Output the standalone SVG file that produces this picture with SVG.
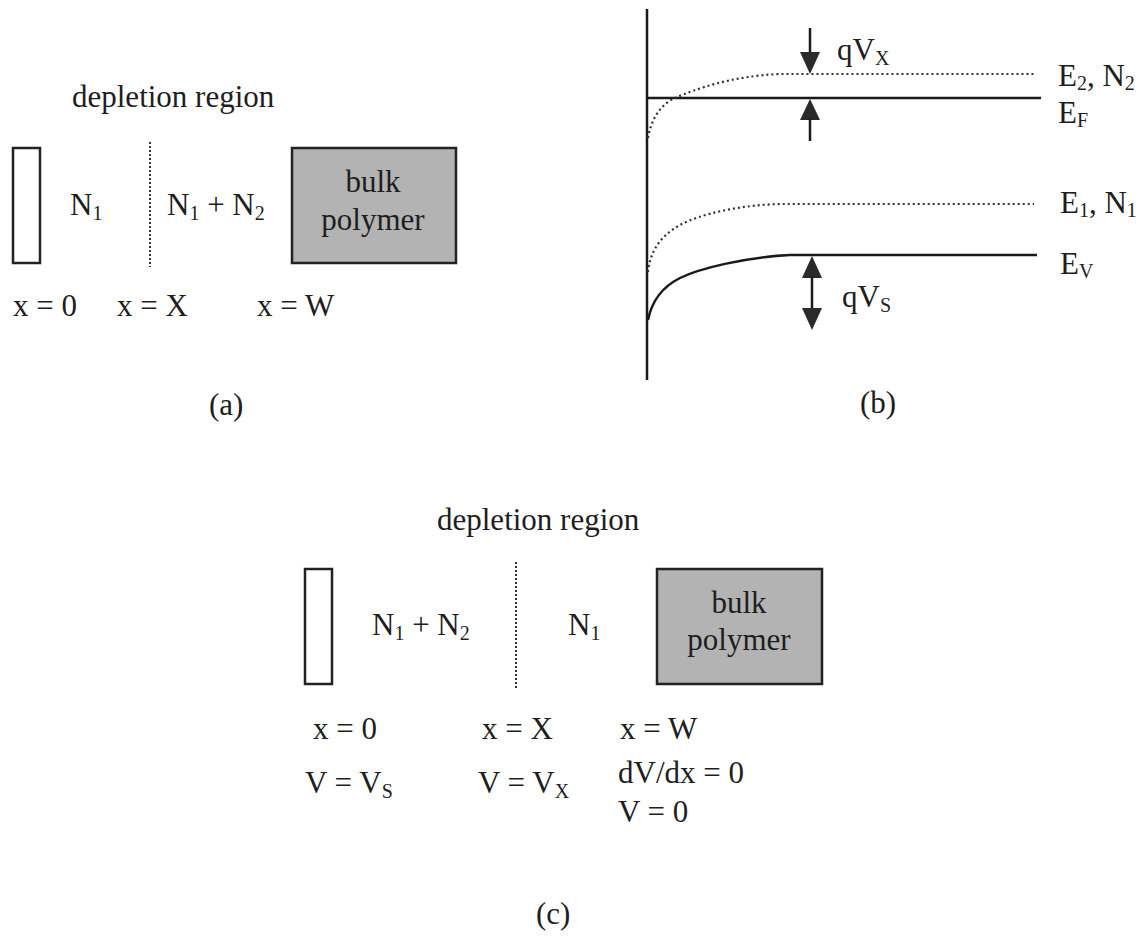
<svg xmlns="http://www.w3.org/2000/svg" width="1146" height="939" viewBox="0 0 1146 939">
<style>
text{font-family:"Liberation Serif","Times New Roman",serif;font-size:31px;fill:#1e1e1e}
.sub{font-size:20px}
.box{fill:#fff;stroke:#222;stroke-width:2.5}
.bulk{fill:#b3b3b3;stroke:#222;stroke-width:2.5}
.dotv{stroke:#333;stroke-width:2;stroke-dasharray:2 2;fill:none}
.solid{stroke:#1a1a1a;stroke-width:2.5;fill:none}
.dot{stroke:#333;stroke-width:2.2;stroke-dasharray:2 3;fill:none}
.head{fill:#2a2a2a}
.mid{text-anchor:middle}
</style>
<rect width="1146" height="939" fill="#fff"/>
<g id="panel-a">
  <text x="72" y="107">depletion region</text>
  <rect id="a-contact" class="box" x="13" y="148" width="27" height="115"/>
  <text x="70" y="215">N<tspan class="sub" dy="5">1</tspan></text>
  <line class="dotv" x1="150" y1="142" x2="150" y2="267"/>
  <text x="167" y="215">N<tspan class="sub" dy="5">1</tspan><tspan dy="-5"> + N</tspan><tspan class="sub" dy="5">2</tspan></text>
  <g id="a-bulk">
    <rect class="bulk" x="292" y="148" width="164" height="115"/>
    <text class="mid" x="373" y="192">bulk</text>
    <text class="mid" x="373" y="230">polymer</text>
  </g>
  <text x="13" y="316">x = 0</text>
  <text x="117" y="316">x = X</text>
  <text x="257" y="316">x = W</text>
  <text x="209" y="415">(a)</text>
</g>
<g id="panel-b">
  <g id="b-connectors">
    <line class="solid" x1="647" y1="9" x2="647" y2="380"/>
    <line class="solid" x1="647" y1="98" x2="1041" y2="98"/>
    <path class="dot" d="M648,138 C651,120 660,104 677,97 S730,76 780,74 L1034,74"/>
    <path class="dot" d="M648,272 C650,252 660,236 680,225 S740,205 780,204 L1034,204"/>
    <path class="solid" d="M648,320 C652,300 662,287 680,278 S745,257 790,255 L1037,255"/>
    <line class="solid" x1="810" y1="28" x2="810" y2="54" stroke-width="2"/>
    <polygon class="head" points="800,52 820,52 810,74"/>
    <polygon class="head" points="810,99 800,120 820,120"/>
    <line class="solid" x1="810" y1="118" x2="810" y2="141" stroke-width="2"/>
    <polygon class="head" points="812,256 802,278 822,278"/>
    <line class="solid" x1="812" y1="276" x2="812" y2="310" stroke-width="2"/>
    <polygon class="head" points="802,308 822,308 812,330"/>
  </g>
  <text x="837" y="60">qV<tspan class="sub" dy="5">X</tspan></text>
  <text x="842" y="307">qV<tspan class="sub" dy="5">S</tspan></text>
  <text x="1058" y="86">E<tspan class="sub" dy="4">2</tspan><tspan dy="-4">, N</tspan><tspan class="sub" dy="4">2</tspan></text>
  <text x="1058" y="123">E<tspan class="sub" dy="4">F</tspan></text>
  <text x="1060" y="213">E<tspan class="sub" dy="4">1</tspan><tspan dy="-4">, N</tspan><tspan class="sub" dy="4">1</tspan></text>
  <text x="1060" y="274">E<tspan class="sub" dy="4">V</tspan></text>
  <text x="860" y="413">(b)</text>
</g>
<g id="panel-c">
  <text x="437" y="530">depletion region</text>
  <rect id="c-contact" class="box" x="305" y="569" width="27" height="115"/>
  <text x="372" y="635">N<tspan class="sub" dy="5">1</tspan><tspan dy="-5"> + N</tspan><tspan class="sub" dy="5">2</tspan></text>
  <line class="dotv" x1="516" y1="562" x2="516" y2="688"/>
  <text x="568" y="635">N<tspan class="sub" dy="5">1</tspan></text>
  <g id="c-bulk">
    <rect class="bulk" x="657" y="569" width="165" height="115"/>
    <text class="mid" x="739" y="613">bulk</text>
    <text class="mid" x="739" y="650">polymer</text>
  </g>
  <text x="313" y="739">x = 0</text>
  <text x="482" y="739">x = X</text>
  <text x="620" y="739">x = W</text>
  <text x="305" y="793">V = V<tspan class="sub" dy="5">S</tspan></text>
  <text x="478" y="793">V = V<tspan class="sub" dy="5">X</tspan></text>
  <text x="618" y="783">dV/dx = 0</text>
  <text x="618" y="822">V = 0</text>
  <text x="536" y="924">(c)</text>
</g>
</svg>
